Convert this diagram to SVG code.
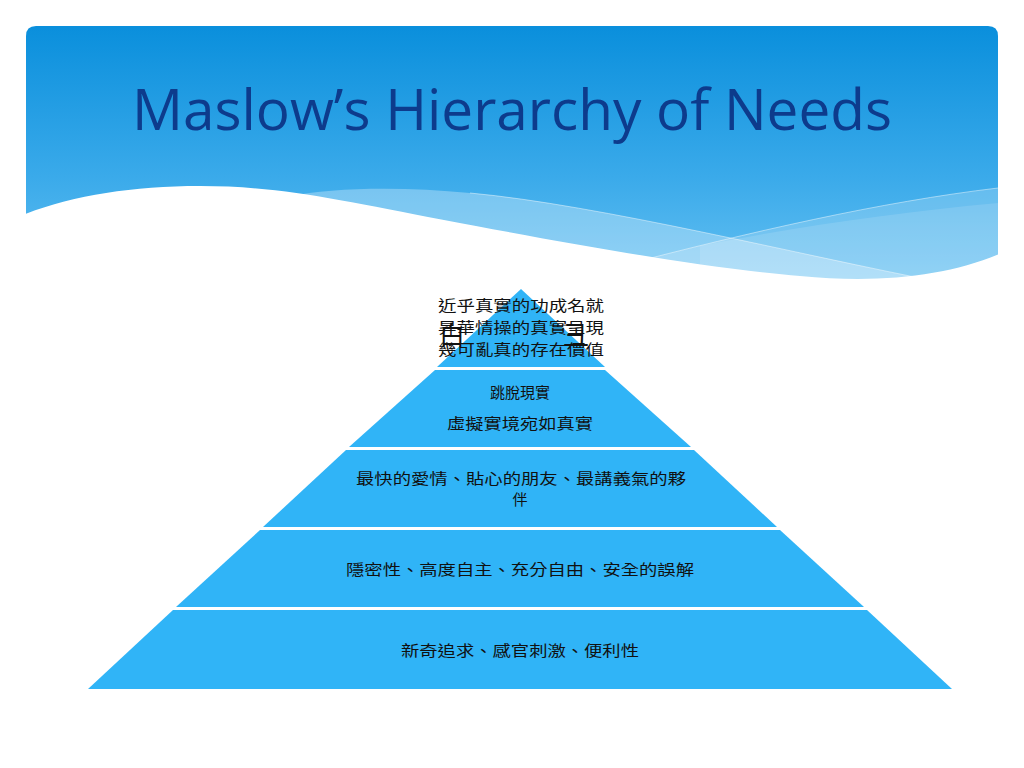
<svg xmlns="http://www.w3.org/2000/svg" width="1024" height="768" viewBox="0 0 1024 768">
<defs>
<linearGradient id="hdr" x1="0" y1="0" x2="0" y2="1" gradientUnits="objectBoundingBox">
<stop offset="0" stop-color="#0a8fdc"/>
<stop offset="0.55" stop-color="#3aaaea"/>
<stop offset="1" stop-color="#6cc4f3"/>
</linearGradient>
<clipPath id="hclip"><path d="M26,36 Q26,26 36,26 H988 Q998,26 998,36 V300 H26 Z"/></clipPath>
<style>
.lvl{fill:#30b4f7;}
.cj{font-family:"Noto Sans CJK TC","Noto Sans CJK SC",sans-serif;font-size:15px;fill:#111;text-anchor:middle;}
.big{font-family:"Noto Sans CJK TC","Noto Sans CJK SC",sans-serif;font-size:26px;fill:#111;text-anchor:middle;}
.title{font-family:"Open Sans","Liberation Sans",sans-serif;font-size:56px;fill:#0d3b8c;text-anchor:middle;}
</style>
</defs>
<rect width="1024" height="768" fill="#ffffff"/>
<g id="header" clip-path="url(#hclip)">
<rect x="26" y="26" width="972" height="274" fill="url(#hdr)"/>
<path d="M290,196 C330,188 400,186 470,193 C600,205 800,255 940,282 L998,282 V320 H290 Z" fill="#ffffff" fill-opacity="0.3"/>
<path d="M620,266 C750,232 880,202 998,188 V320 H620 Z" fill="#ffffff" fill-opacity="0.2"/>
<path d="M700,246 C800,226 900,212 998,203 V320 H700 Z" fill="#ffffff" fill-opacity="0.12"/>
<path d="M470,193 C600,205 800,255 940,282" fill="none" stroke="#ffffff" stroke-opacity="0.45" stroke-width="1"/>
<path d="M620,266 C750,232 880,202 998,188" fill="none" stroke="#ffffff" stroke-opacity="0.45" stroke-width="1"/>
<path d="M20,216 C70,196 130,186 200,186 C280,186 340,200 444,220 C550,240 700,268 800,276 C880,284 950,276 1004,252 V330 H20 Z" fill="#ffffff"/>
</g>
<text id="title" class="title" x="512" y="130" textLength="760" lengthAdjust="spacingAndGlyphs">Maslow’s Hierarchy of Needs</text>
<g id="pyramid">
<g id="level5">
<polygon class="lvl" points="521,289 605,367 437,367"/>
<text class="big" x="452" y="345">白</text>
<text class="big" x="576" y="345">彐</text>
<text class="cj" x="521" y="311" textLength="166" lengthAdjust="spacingAndGlyphs">近乎真實的功成名就</text>
<text class="cj" x="521" y="333" textLength="166" lengthAdjust="spacingAndGlyphs">昇華情操的真實呈現</text>
<text class="cj" x="521" y="355" textLength="166" lengthAdjust="spacingAndGlyphs">幾可亂真的存在價值</text>
</g>
<g id="level4">
<polygon class="lvl" points="605,370 691,447 349,447 435,370"/>
<text class="cj" x="520" y="398">跳脫現實</text>
<text class="cj" x="520" y="429" textLength="146" lengthAdjust="spacingAndGlyphs">虛擬實境宛如真實</text>
</g>
<g id="level3">
<polygon class="lvl" points="694,450 777,527 263,527 346,450"/>
<text class="cj" x="521" y="484" textLength="330" lengthAdjust="spacingAndGlyphs">最快的愛情、貼心的朋友、最講義氣的夥</text>
<text class="cj" x="520" y="505">伴</text>
</g>
<g id="level2">
<polygon class="lvl" points="780,530 864,607 176,607 260,530"/>
<text class="cj" x="520" y="575" textLength="348" lengthAdjust="spacingAndGlyphs">隱密性、高度自主、充分自由、安全的誤解</text>
</g>
<g id="level1">
<polygon class="lvl" points="867,610 952,689 88,689 173,610"/>
<text class="cj" x="520" y="656" textLength="238" lengthAdjust="spacingAndGlyphs">新奇追求、感官刺激、便利性</text>
</g>
</g>
<g id="connectors"/>
</svg>
